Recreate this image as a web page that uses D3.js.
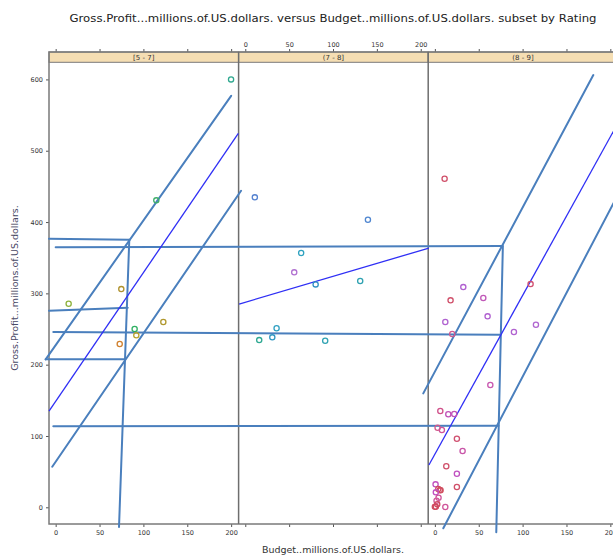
<!DOCTYPE html>
<html>
<head>
<meta charset="utf-8">
<script src="https://cdn.jsdelivr.net/npm/d3@7"></script>
<style>
  body { margin: 0; background: #fff; }
  svg { display: block; font-family: "DejaVu Sans", Verdana, sans-serif; }
</style>
</head>
<body>
<div id="chart"></div>
<script>
// panels (strip labels)
const panelLabels = ["[5 - 7]", "(7 - 8]", "(8 - 9]"];

// points per panel: budget, gross profit, colour
const budget1 = [199.9, 114.7, 14.8, 74.8, 90.0, 91.9, 122.7, 73.0];
const gross1  = [600.0, 430.4, 285.4, 306.0, 250.0, 241.1, 259.8, 229.0];
const color1  = ["#2ea88f", "#3fae6a", "#8db23c", "#b0922e", "#2fb062", "#b8a22e", "#b0982e", "#d0802e"];

const budget2 = [10.9, 139.8, 63.7, 55.8, 80.2, 131.0, 35.7, 15.9, 30.8, 91.1];
const gross2  = [434.6, 403.2, 356.5, 329.5, 312.6, 317.3, 251.0, 234.5, 238.3, 233.6];
const color2  = ["#5582d0", "#4f86d0", "#2fa2c0", "#b070d0", "#3090c2", "#2fa2b2", "#30a0c2", "#2ea892", "#3098c2", "#30a2b2"];

const budget3 = [11.1, 32.4, 109.1, 17.9, 55.2, 60.1, 11.9, 115.2, 90.1, 19.8,
                 63.2, 6.2, 15.3, 22.1, 3.1, 8.0, 25.1, 31.6, 13.0, 25.1,
                 0.8, 25.1, 3.9, 5.7, 6.5, 1.1, 4.2, 1.9, 2.7, 0.0, 1.1, 11.9];
const gross3  = [460.7, 308.8, 313.0, 290.2, 293.4, 267.8, 259.8, 256.0, 245.8, 243.0,
                 171.5, 135.0, 130.4, 130.8, 111.6, 108.4, 96.2, 79.0, 57.5, 47.1,
                 32.2, 28.5, 25.7, 24.3, 23.8, 21.0, 13.5, 9.3, 4.2, 0.8, 0.8, 0.4];
const color3  = ["#d0506a", "#b060d0", "#d05070", "#d0506a", "#c058b8", "#b060d0", "#b062d0", "#b065d0", "#b062d0", "#d05a90",
                 "#c858b0", "#d0508a", "#c050b8", "#c050b8", "#d05a8a", "#d0559a", "#d05070", "#c855a8", "#d0506a", "#c050c0",
                 "#c050c0", "#d0506a", "#d04a60", "#d04a60", "#d05060", "#c050c0", "#d0559a", "#d05a9a", "#d04a60", "#d04a60", "#d04a60", "#d0559a"];

// reference lines: panel index, x1, y1, x2, y2 (data units of that panel)
const bandLines = [
  [0, -11.4, 207.5, 200.0, 577.0],
  [0, -3.9, 56.9, 211.3, 443.9],
  [0, -7.6, 376.5, 83.9, 375.1],
  [0, 83.9, 375.1, 72.2, -27.6],
  [0, -7.6, 275.6, 82.1, 279.8],
  [0, -11.4, 207.5, 79.0, 207.5],
  [0, 0.0, 364.5, 509.2, 366.3],
  [0, -2.7, 245.8, 506.6, 241.8],
  [0, -2.7, 113.6, 504.7, 114.4],
  [2, -13.2, 159.8, 180.6, 606.1],
  [2, 9.6, -29.4, 209.5, 440.4],
  [2, 77.5, 366.3, 70.0, -34.8]
];
const fitLines = [
  [0, -7.6, 135.0, 208.2, 524.3],
  [1, -7.0, 285.0, 209.3, 363.5],
  [2, -6.8, 59.3, 209.5, 540.7]
];

const xTicks = [0, 50, 100, 150, 200];
const yTicks = [0, 100, 200, 300, 400, 500, 600];

const width = 613, height = 556;
const plotLeft = 49, panelW = 189.6, plotTop = 52, stripH = 10.3, plotBottom = 524;

const svg = d3.select("#chart").append("svg")
  .attr("width", width).attr("height", height);

const y = d3.scaleLinear().domain([-23.4, 624]).range([plotBottom, plotTop + stripH]);
const xs = panelLabels.map((_, i) =>
  d3.scaleLinear().domain([-7.6, 208.5]).range([plotLeft + i * panelW, plotLeft + (i + 1) * panelW]));

// title
svg.append("text")
  .attr("x", 333).attr("y", 22)
  .attr("text-anchor", "middle")
  .attr("font-size", 11).attr("fill", "#222")
  .attr("textLength", 527).attr("lengthAdjust", "spacingAndGlyphs")
  .text("Gross.Profit...millions.of.US.dollars. versus Budget..millions.of.US.dollars. subset by Rating");

// axis titles
svg.append("text")
  .attr("x", 333).attr("y", 553)
  .attr("text-anchor", "middle")
  .attr("font-size", 9.5).attr("fill", "#333")
  .text("Budget..millions.of.US.dollars.");
svg.append("text")
  .attr("transform", "translate(18,288) rotate(-90)")
  .attr("text-anchor", "middle")
  .attr("font-size", 9.5).attr("fill", "#4a4a66")
  .text("Gross.Profit...millions.of.US.dollars.");

// left axis
const yAxis = svg.append("g")
  .attr("transform", `translate(${plotLeft},0)`)
  .call(d3.axisLeft(y).tickValues(yTicks).tickSize(3).tickPadding(3));
yAxis.select(".domain").remove();
yAxis.selectAll("line").attr("stroke", "#555");
yAxis.selectAll("text").attr("font-size", 6.5).attr("fill", "#333")
  .attr("font-family", "DejaVu Sans, sans-serif");

// top and bottom axes per panel
xs.forEach((x, i) => {
  const topAx = svg.append("g")
    .attr("transform", `translate(0,${plotTop})`)
    .call(d3.axisTop(x).tickValues(xTicks).tickSize(3).tickPadding(2)
      .tickFormat(i === 1 ? d3.format("d") : () => ""));
  const botAx = svg.append("g")
    .attr("transform", `translate(0,${plotBottom})`)
    .call(d3.axisBottom(x).tickValues(xTicks).tickSize(3).tickPadding(3)
      .tickFormat(i !== 1 ? d3.format("d") : () => ""));
  [topAx, botAx].forEach(ax => {
    ax.select(".domain").remove();
    ax.selectAll("line").attr("stroke", "#555");
    ax.selectAll("text").attr("font-size", 6.5).attr("fill", "#333")
      .attr("font-family", "DejaVu Sans, sans-serif");
  });
});

// strips
xs.forEach((x, i) => {
  const x0 = x.range()[0];
  svg.append("rect")
    .attr("x", x0).attr("y", plotTop)
    .attr("width", panelW).attr("height", stripH)
    .attr("fill", "#f5deb3").attr("stroke", "#7a7a7a").attr("stroke-width", 1);
  svg.append("text")
    .attr("x", x0 + panelW / 2).attr("y", plotTop + stripH - 2.5)
    .attr("text-anchor", "middle")
    .attr("font-size", 7).attr("fill", "#333")
    .text(panelLabels[i]);
});

// panel frames
svg.append("rect")
  .attr("x", plotLeft).attr("y", plotTop)
  .attr("width", panelW * 3).attr("height", plotBottom - plotTop)
  .attr("fill", "none").attr("stroke", "#7a7a7a").attr("stroke-width", 1.5);
[1, 2].forEach(i => {
  svg.append("line")
    .attr("x1", plotLeft + i * panelW).attr("x2", plotLeft + i * panelW)
    .attr("y1", plotTop).attr("y2", plotBottom)
    .attr("stroke", "#6e6e6e").attr("stroke-width", 1.5);
});

// lines (not clipped)
svg.append("g").selectAll("line").data(bandLines).join("line")
  .attr("x1", d => xs[d[0]](d[1])).attr("y1", d => y(d[2]))
  .attr("x2", d => xs[d[0]](d[3])).attr("y2", d => y(d[4]))
  .attr("stroke", "#4a7fbd").attr("stroke-width", 2)
  .attr("stroke-linecap", "round");
svg.append("g").selectAll("line").data(fitLines).join("line")
  .attr("x1", d => xs[d[0]](d[1])).attr("y1", d => y(d[2]))
  .attr("x2", d => xs[d[0]](d[3])).attr("y2", d => y(d[4]))
  .attr("stroke", "#2f2ff5").attr("stroke-width", 1.3);

// points
const panelsData = [
  [budget1, gross1, color1],
  [budget2, gross2, color2],
  [budget3, gross3, color3]
];
panelsData.forEach(([bx, gy, cols], i) => {
  const pts = bx.map((b, k) => ({ b, g: gy[k], c: cols[k] }));
  svg.append("g").selectAll("circle").data(pts).join("circle")
    .attr("cx", d => xs[i](d.b)).attr("cy", d => y(d.g))
    .attr("r", 2.6)
    .attr("fill", "none")
    .attr("stroke", d => d.c).attr("stroke-width", 1.3);
});
</script>
</body>
</html>
